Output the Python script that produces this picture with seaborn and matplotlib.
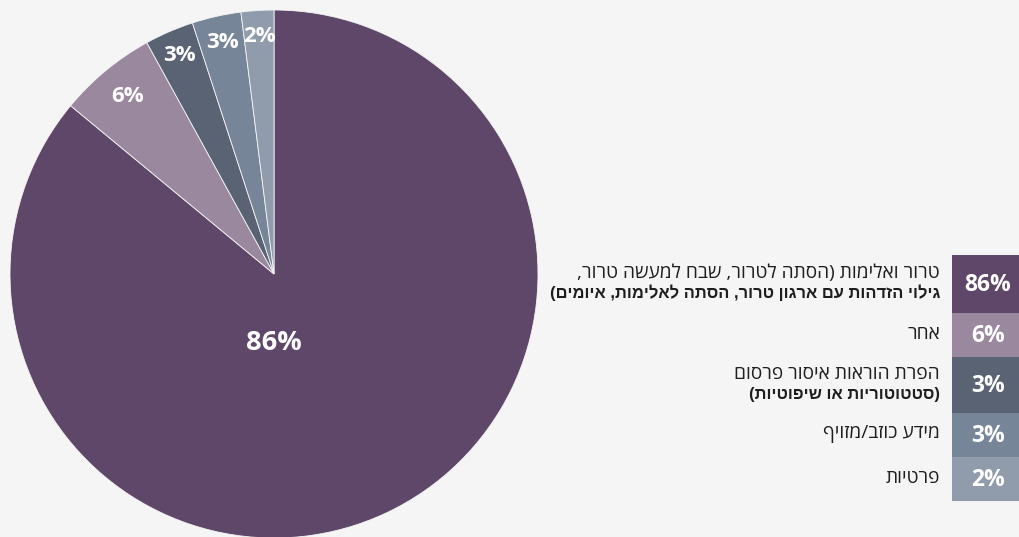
import matplotlib
matplotlib.use("Agg")
import matplotlib.pyplot as plt
import seaborn as sns
from matplotlib.patches import Rectangle

sns.set_theme(style="white")
plt.rcParams['font.family'] = ['Open Sans', 'DejaVu Sans']

# data
values = [86, 6, 3, 3, 2]
pct_labels = ["86%", "6%", "3%", "3%", "2%"]
colors = ["#5f4769", "#9a889f", "#5a6374", "#768597", "#909bab"]
# legend text, one list of (line, bold) per category, logical (RTL) order
legend_lines = [
    [("טרור ואלימות (הסתה לטרור, שבח למעשה טרור,", False),
     ("גילוי הזדהות עם ארגון טרור, הסתה לאלימות, איומים)", True)],
    [("אחר", False)],
    [("הפרת הוראות איסור פרסום", False),
     ("(סטטוטוריות או שיפוטיות)", True)],
    [("מידע כוזב/מזויף", False)],
    [("פרטיות", False)],
]


def rtl(s):
    # matplotlib has no bidi support: reverse and mirror brackets
    return s[::-1].translate(str.maketrans("()", ")("))


bg = "#f5f5f5"
fig = plt.figure(figsize=(10.2, 5.37), dpi=100, facecolor=bg)

# pie
R = 264
ax = fig.add_axes([(274 - R) / 1020, (537 - 274 - R) / 537, 2 * R / 1020, 2 * R / 537])
ax.set_facecolor(bg)
wedges, texts, autotexts = ax.pie(
    values, colors=colors, startangle=90, counterclock=False,
    labels=None, autopct=lambda p: "", pctdistance=0.9,
    wedgeprops=dict(linewidth=0.6, edgecolor=bg))
for t, lab in zip(autotexts, pct_labels):
    t.set_text(lab)
    t.set_color("white")
    t.set_fontweight("bold")
    t.set_fontsize(16)
autotexts[0].set_position((0, -0.26))
autotexts[0].set_fontsize(19.5)
x6, y6 = autotexts[1].get_position()
autotexts[1].set_position((x6 * 0.97, y6 * 0.97))
ax.set_xlim(-1, 1)
ax.set_ylim(-1, 1)
ax.set_aspect("equal")

# legend
lax = fig.add_axes([0, 0, 1, 1])
lax.set_xlim(0, 1020)
lax.set_ylim(537, 0)
lax.axis("off")
box_edges = [255, 313, 357, 413, 457, 501]
for i, (lines, col, lab) in enumerate(zip(legend_lines, colors, pct_labels)):
    y0, y1 = box_edges[i], box_edges[i + 1]
    lax.add_patch(Rectangle((952, y0), 68, y1 - y0, facecolor=col, edgecolor="none"))
    yc = (y0 + y1) / 2
    lax.text(988, yc + 1, lab, ha="center", va="center", color="white",
             fontweight="bold", fontsize=16.5)
    n = len(lines)
    for j, (line, bold) in enumerate(lines):
        yy = yc + (j - (n - 1) / 2) * 20 - 1
        if bold:
            lax.text(940, yy, rtl(line), ha="right", va="center", color="#1e1e1e",
                     fontsize=11.9, fontweight="bold",
                     family=['Liberation Sans', 'DejaVu Sans'])
        else:
            lax.text(940, yy, rtl(line), ha="right", va="center", color="#1e1e1e",
                     fontsize=13.8)

fig.savefig("out.png", dpi=100, facecolor=bg)
